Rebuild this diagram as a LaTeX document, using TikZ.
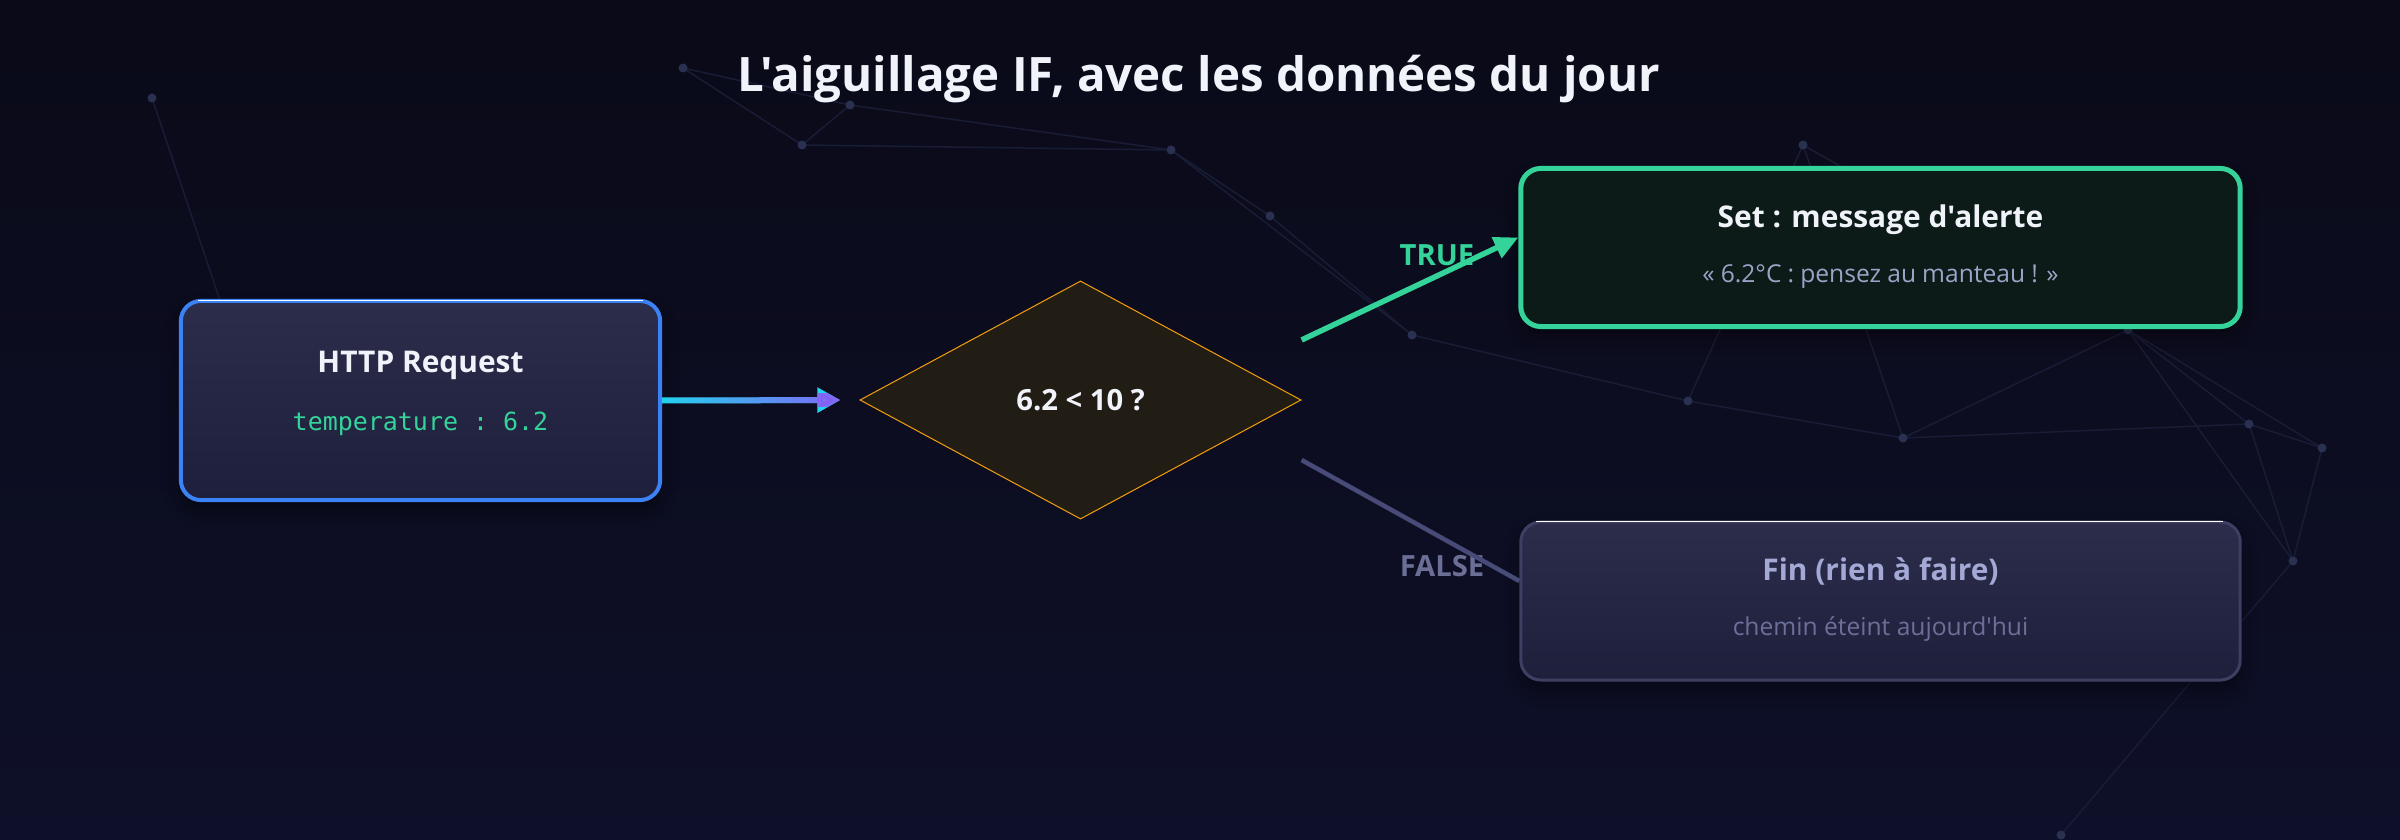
\documentclass[tikz,border=0pt]{standalone}
\usepackage{fontspec}
\setmainfont{Open Sans}[Ligatures=TeXOff]
\setmonofont{DejaVu Sans Mono}
\usepackage{tikz}
\usetikzlibrary{arrows.meta,shapes.geometric,fadings,shadows.blur}

\definecolor{bgtop}{HTML}{0A0A18}
\definecolor{bgbot}{HTML}{0E1029}
\definecolor{netcol}{HTML}{191C35}
\definecolor{dotcol}{HTML}{2A3150}
\definecolor{boxtop}{HTML}{2C2D4B}
\definecolor{boxbot}{HTML}{1E1F3B}
\definecolor{httpblue}{HTML}{3B82F6}
\definecolor{flowcyan}{HTML}{22D3EE}
\definecolor{flowpurple}{HTML}{8B5CF6}
\definecolor{okgreen}{HTML}{34D399}
\definecolor{setfill}{HTML}{0C1A18}
\definecolor{diafill}{HTML}{211C14}
\definecolor{diaborder}{HTML}{F59E0B}
\definecolor{offline}{HTML}{484B78}
\definecolor{finborder}{HTML}{3D3F63}
\definecolor{fintitle}{HTML}{A3A9D4}
\definecolor{finsub}{HTML}{6C7098}
\definecolor{offlabel}{HTML}{6B6F95}
\definecolor{setsub}{HTML}{9BA3C6}
\definecolor{titlecol}{HTML}{F1F3FB}

\tikzfading[name=fadetoright, left color=transparent!100, right color=transparent!0]

\tikzset{
	netline/.style={draw=netcol, line width=0.015cm},
	netdot/.style={fill=dotcol},
	card/.style={rectangle, rounded corners=0.2cm, minimum width=7.19cm, minimum height=1.58cm,
		blur shadow={shadow xshift=0cm, shadow yshift=-0.1cm, shadow opacity=45, shadow blur radius=0.18cm}},
	hiline/.style={draw=white, line width=0.015cm},
	decision/.style={diamond, aspect=1.85, minimum width=4.41cm, minimum height=2.38cm, inner sep=0pt,
		fill=diafill, draw=diaborder, line width=0.01cm, text=titlecol, font=\fontsize{8.3pt}{10pt}\selectfont\bfseries},
	maintitle/.style={anchor=base, text=titlecol, font=\fontsize{13.5pt}{16pt}\selectfont\bfseries},
	cardtitle/.style={anchor=base, text=titlecol, font=\fontsize{8.5pt}{10pt}\selectfont\bfseries},
	cardsub/.style={anchor=base, text=setsub, font=\fontsize{7pt}{9pt}\selectfont},
	cardmono/.style={anchor=base, text=okgreen, font=\fontsize{7.1pt}{9pt}\selectfont\ttfamily},
	branchlabel/.style={anchor=base, font=\fontsize{8.3pt}{10pt}\selectfont\bfseries},
}

\begin{document}
\begin{tikzpicture}[x=0.01cm,y=-0.01cm]
	\useasboundingbox (0,0) rectangle (2400,840);
	\fill[top color=bgtop, bottom color=bgbot] (0,0) rectangle (2400,840);

	% constellation
	\foreach \n/\px/\py in {1/152/98, 2/683/68, 3/850/105, 4/802/145, 5/1171/150, 6/1270/216, 7/1412/335, 8/1688/401,
		9/1903/438, 10/1803/145, 11/2128/330, 12/2249/424, 13/2322/448, 14/2293/561, 15/2061/835, 16/240/360}
		\coordinate (p\n) at (\px,\py);
	\foreach \a/\b in {1/16, 2/3, 2/4, 3/4, 3/5, 4/5, 5/6, 5/7, 6/7, 7/8, 8/10, 8/9, 9/10, 10/11, 9/11, 9/12,
		11/12, 11/13, 11/14, 12/13, 12/14, 13/14, 14/15}
		\draw[netline] (p\a) -- (p\b);
	\foreach \n in {1,...,15}
		\fill[netdot] (p\n) circle (0.045cm);

	\node[maintitle] (title) at (1199,92) {L'aiguillage IF, avec les données du jour};

	\node[card, minimum width=4.79cm, minimum height=1.99cm, top color=boxtop, bottom color=boxbot,
		draw=httpblue, line width=0.04cm] (http) at (420.5,400.5) {};
	\draw[hiline] ([xshift=0.19cm,yshift=-0.015cm]http.north west) -- ([xshift=-0.19cm,yshift=-0.015cm]http.north east);
	\node[cardtitle] (httpT) at (420.5,373) {HTTP Request};
	\node[cardmono] (httpV) at (420.5,430) {temperature : 6.2};

	\node[decision] (dia) at (1080.5,400) {6.2 < 10 ?};

	\node[card, fill=setfill, draw=okgreen, line width=0.05cm] (set) at (1880.5,247.5) {};
	\node[cardtitle] (setT) at (1880.5,228) {Set : message d'alerte};
	\node[cardsub, inner xsep=0pt] (setV) at (1880.5,283) {\makebox[3.56cm][s]{« 6.2°C : pensez au manteau ! »}};

	\node[card, top color=boxtop, bottom color=boxbot, draw=finborder, line width=0.03cm] (fin) at (1880.5,601) {};
	\draw[hiline] ([xshift=0.17cm,yshift=-0.01cm]fin.north west) -- ([xshift=-0.19cm,yshift=-0.01cm]fin.north east);
	\node[cardtitle, text=fintitle] (finT) at (1880.5,580) {Fin (rien à faire)};
	\node[cardsub, text=finsub] (finV) at (1880.5,635) {chemin éteint aujourd'hui};

	\node[branchlabel, text=okgreen] (trueL) at (1437,266) {TRUE};
	\node[branchlabel, text=offlabel] (falseL) at (1442,577) {FALSE};

	\draw[flowcyan, line width=0.06cm, -{Triangle[length=0.23cm,width=0.24cm]}, shorten >=0.19cm] (http.east) -- (dia.west);
	\draw[flowpurple, line width=0.06cm, -{Triangle[length=0.23cm,width=0.24cm]}, shorten >=0.19cm, path fading=fadetoright] (http.east) -- (dia.west);
	\draw[okgreen, line width=0.055cm, -{Triangle[length=0.24cm,width=0.22cm]}] ([yshift=0.6cm]dia.east) -- ([yshift=0.1cm]set.west);
	\draw[offline, line width=0.045cm] ([yshift=-0.6cm]dia.east) -- ([yshift=0.2cm]fin.west);
\end{tikzpicture}
\end{document}
